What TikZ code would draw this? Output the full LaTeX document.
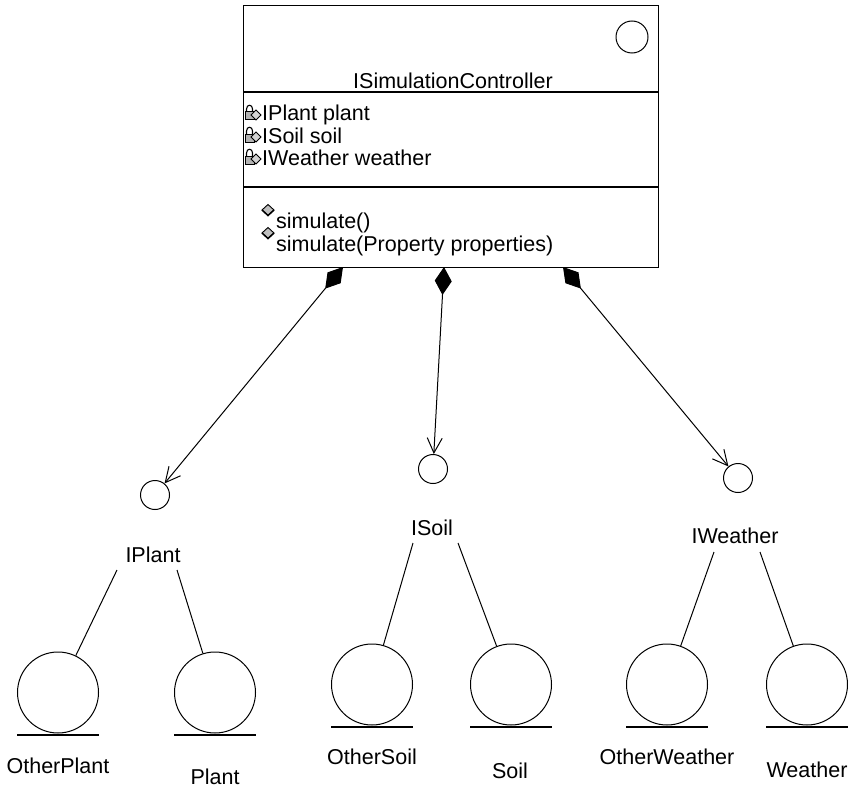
\documentclass[tikz,border=0pt]{standalone}
\usepackage{fontspec}
\setmainfont{Liberation Sans}
\usetikzlibrary{arrows.meta,calc}
\begin{document}
\begin{tikzpicture}[x=1pt,y=-1pt,
  lbl/.style={font=\fontsize{21.5}{23}\selectfont, inner sep=0pt, anchor=base},
  member/.style={lbl, anchor=base west},
  iface/.style={circle, draw, line width=1pt, minimum size=29pt, inner sep=0pt},
  impl/.style={circle, draw, line width=1pt, minimum size=81pt, inner sep=0pt},
  comp/.style={line width=1pt, {Diamond[length=28pt,width=17pt,fill=black]}-{Straight Barb[length=15pt,width=15pt]}},
  real/.style={line width=1pt},
  ground/.style={line width=1.4pt},
  fieldicon/.pic={
    \fill[gray!60] (-8,-1) rectangle (1,7);
    \draw[line width=1pt] (-8,-1) rectangle (1,7);
    \draw[line width=1.1pt] (-6.5,-1) -- (-6.5,-4) .. controls (-6.5,-9) and (-0.5,-9) .. (-0.5,-4) -- (-0.5,-1);
    \filldraw[fill=gray!35, line width=1pt] (3,-3) -- (8,2) -- (3,7) -- (-2,2) -- cycle;
  },
  methicon/.pic={
    \filldraw[fill=gray!50, line width=0.9pt] (0,-5.5) -- (6,0) -- (0,5.5) -- (-6,0) -- cycle;
    \draw[line width=1.5pt] (-6,0) -- (0,5.5) -- (6,0);
  }
  ]
\useasboundingbox (0,0) rectangle (848,789);

% main class box
\node[draw, line width=1.2pt, anchor=north west, minimum width=415pt, minimum height=262pt, inner sep=0pt] (ctrl) at (243,5) {};
\draw[line width=1.2pt] ($(ctrl.north west)+(0,87)$) -- ($(ctrl.north east)+(0,87)$);
\draw[line width=1.2pt] ($(ctrl.north west)+(0,182)$) -- ($(ctrl.north east)+(0,182)$);
\node[circle, draw, line width=1pt, minimum size=32pt, inner sep=0pt] (hdrcirc) at (632,37) {};
\node[lbl] (title) at (453,89) {ISimulationController};

\pic at (253,113) {fieldicon};
\node[member] (a1) at (262,121) {IPlant plant};
\pic at (253,135) {fieldicon};
\node[member] (a2) at (262,143) {ISoil soil};
\pic at (253,157) {fieldicon};
\node[member] (a3) at (262,165) {IWeather weather};

\pic at (268,210) {methicon};
\node[member] (m1) at (276,228) {simulate()};
\pic at (268,233) {methicon};
\node[member] (m2) at (276,251) {simulate(Property properties)};

% interfaces
\node[iface] (iplant) at (155,495) {};
\node[iface] (isoil) at (433,469) {};
\node[iface] (iweather) at (738,478) {};
\node[lbl] (iplantl) at (153,562) {IPlant};
\node[lbl] (isoill) at (432,535) {ISoil};
\node[lbl] (iweatherl) at (735,543) {IWeather};

% compositions
\coordinate (cp) at (343,267);
\coordinate (cs) at (444,267);
\coordinate (cw) at (563,267);
\draw[comp] (cp) -- (iplant);
\draw[comp] (cs) -- (isoil);
\draw[comp] (cw) -- (iweather);

% implementing classes
\node[impl] (otherplant) at (58,692.5) {};
\node[impl] (plant) at (215,692.5) {};
\node[impl] (othersoil) at (372,684.5) {};
\node[impl] (soil) at (511,684.5) {};
\node[impl] (otherweather) at (667,684.5) {};
\node[impl] (weather) at (807,684.5) {};

\foreach \n in {otherplant,plant,othersoil,soil,otherweather,weather}{
  \draw[ground] ($(\n.south)+(-41,1.5)$) -- ($(\n.south)+(41,1.5)$);
}

\node[lbl] (otherplantl) at (58,773) {OtherPlant};
\node[lbl] (plantl) at (215,784) {Plant};
\node[lbl] (othersoill) at (372,764) {OtherSoil};
\node[lbl] (soill) at (510,778) {Soil};
\node[lbl] (otherweatherl) at (667,764) {OtherWeather};
\node[lbl] (weatherl) at (807,777) {Weather};

% realization lines
\coordinate (rp1) at (117,570);
\coordinate (rp2) at (177,570);
\coordinate (rs1) at (413,543);
\coordinate (rs2) at (458,543);
\coordinate (rw1) at (714,552);
\coordinate (rw2) at (760,552);
\draw[real] (rp1) -- (otherplant);
\draw[real] (rp2) -- (plant);
\draw[real] (rs1) -- (othersoil);
\draw[real] (rs2) -- (soil);
\draw[real] (rw1) -- (otherweather);
\draw[real] (rw2) -- (weather);
\end{tikzpicture}
\end{document}
